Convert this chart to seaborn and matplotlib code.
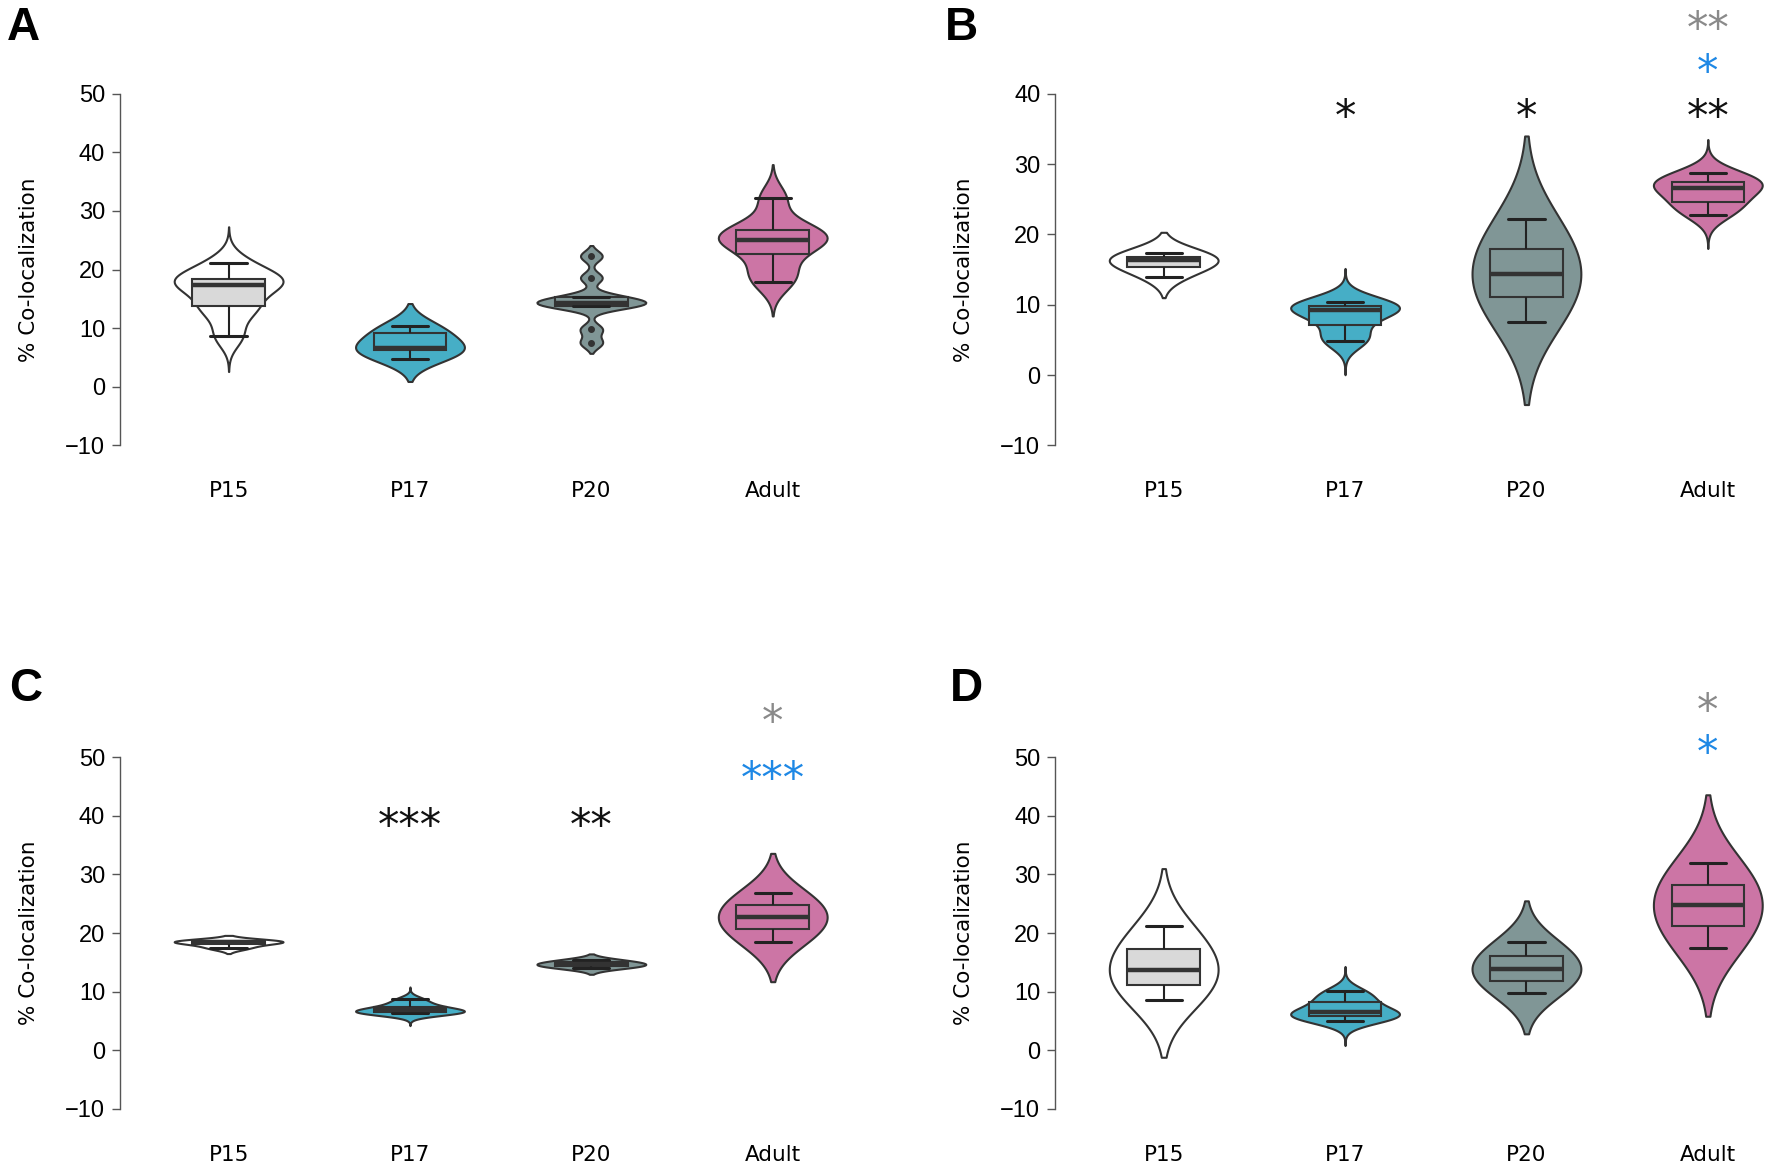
import numpy as np
import pandas as pd
import matplotlib
matplotlib.use("Agg")
import matplotlib.pyplot as plt
import matplotlib.transforms as mtransforms
from matplotlib import font_manager
import seaborn as sns

# -----------------------------
# Data
# -----------------------------
groups = ["P15", "P17", "P20", "Adult"]

a_p15 = [8.7, 12.8, 14.1, 17.0, 17.6, 18.3, 18.9, 21.2]
a_p17 = [4.7, 6.0, 6.3, 6.5, 6.6, 9.0, 9.5, 10.4]
a_p20 = [7.5, 9.8, 13.8, 14.0, 14.2, 14.3, 15.0, 15.4, 18.6, 22.3]
a_adult = [17.8, 20.0, 23.6, 24.6, 25.4, 26.5, 27.2, 32.2]

b_p15 = [13.9, 15.0, 15.5, 16.3, 16.5, 16.8, 17.0, 17.4]
b_p17 = [4.8, 5.5, 7.6, 9.0, 9.5, 9.7, 10.0, 10.4]
b_p20 = [7.6, 10.0, 11.5, 13.5, 15.3, 17.5, 19.0, 22.2]
b_adult = [22.8, 24.0, 24.9, 26.3, 26.9, 27.4, 27.8, 28.7]

c_p15 = [17.4, 17.6, 18.2, 18.5, 18.55, 18.6, 18.6, 18.7]
c_p17 = [6.3, 6.35, 6.5, 6.7, 6.9, 7.3, 7.9, 8.7]
c_p20 = [14.0, 14.2, 14.5, 14.6, 14.7, 14.9, 15.3, 15.4]
c_adult = [18.5, 19.8, 21.0, 22.3, 23.1, 24.5, 25.5, 26.8]

d_p15 = [8.6, 10.0, 11.6, 13.0, 14.5, 16.8, 18.5, 21.2]
d_p17 = [5.0, 5.6, 6.0, 6.3, 6.7, 8.0, 9.0, 10.1]
d_p20 = [9.8, 11.0, 12.1, 13.5, 14.3, 15.8, 16.7, 18.5]
d_adult = [17.5, 19.5, 21.8, 23.5, 26.0, 28.0, 29.0, 31.9]

# significance stars: text, group index, y value, colour key
b_stars = [("*", 1, 37.7, "k"), ("*", 2, 37.7, "k"), ("**", 3, 37.7, "k"),
           ("*", 3, 44.1, "b"), ("**", 3, 50.3, "g")]
c_stars = [("***", 1, 39.6, "k"), ("**", 2, 39.6, "k"),
           ("***", 3, 47.5, "b"), ("*", 3, 57.3, "g")]
d_stars = [("*", 3, 52.0, "b"), ("*", 3, 59.2, "g")]

# kde bandwidth (data units) and tail cut per violin
a_bw, a_cut = [2.0, 1.9, 0.9, 2.2], [3.05, 2, 2, 2.6]
b_bw, b_cut = [1.45, 1.4, 5.9, 1.5], [2, 3.4, 2, 3.2]
c_bw, c_cut = [0.45, 0.6, 0.52, 3.4], [2, 3.5, 2, 2]
d_bw, d_cut = [4.9, 1.2, 3.5, 5.85], [2, 3.5, 2, 2]

# -----------------------------
# Style
# -----------------------------
violin_colors = ["#ffffff", "#46aec6", "#809696", "#cc75a5"]
box_colors = ["#d9d9d9", "#46aec6", "#809696", "#cc75a5"]
star_colors = {"k": "#111111", "b": "#1e88e5", "g": "#8a8a8a"}
edge = "#333333"

sns.set_theme(style="white")
plt.rcParams["font.family"] = ["DejaVu Sans"]
plt.rcParams["text.color"] = "black"

available = {f.name for f in font_manager.fontManager.ttflist}
tick_font = "Liberation Sans Narrow" if "Liberation Sans Narrow" in available else "Liberation Sans"

fig = plt.figure(figsize=(17.72, 11.71), dpi=100)

ax_w = 0.4043
ax_h = 0.3002
positions = {
    "A": [0.0676, 0.6197, ax_w, ax_h],
    "B": [0.5953, 0.6197, ax_w, ax_h],
    "C": [0.0676, 0.0531, ax_w, ax_h],
    "D": [0.5953, 0.0531, ax_w, ax_h],
}


def draw_panel(ax, values, bws, cuts, ymax, stars):
    df = pd.DataFrame({
        "group": np.repeat(groups, [len(v) for v in values]),
        "value": np.concatenate(values),
    })

    for i, g in enumerate(groups):
        sub = df[df["group"] == g]
        factor = bws[i] / sub["value"].std(ddof=1)
        sns.violinplot(
            data=sub, x="group", y="value", order=groups,
            color=violin_colors[i], saturation=1,
            inner=None, cut=cuts[i], width=0.6, density_norm="width",
            bw_method=factor, linecolor=edge, linewidth=1.5, ax=ax
        )

    sns.boxplot(
        data=df, x="group", y="value", order=groups,
        hue="group", hue_order=groups, palette=box_colors,
        saturation=1, width=0.4, linecolor=edge, linewidth=1.5,
        legend=False, ax=ax,
        medianprops=dict(color=edge, linewidth=3.2),
        capprops=dict(color="#222222", linewidth=2.2),
        whiskerprops=dict(color="#222222", linewidth=1.5),
        flierprops=dict(marker="o", markerfacecolor=edge,
                        markeredgecolor=edge, markersize=4),
    )

    ax.set_xlim(-0.6, 3.35)
    ax.set_ylim(-10, ymax)
    ax.set_yticks(range(-10, ymax + 1, 10))
    ax.set_xlabel("")
    ax.set_ylabel("% Co-localization", fontsize=15.5, color="black")
    ax.yaxis.set_label_coords(-0.113, 0.5)

    sns.despine(ax=ax, bottom=True)
    ax.spines["left"].set_color("#555555")
    ax.spines["left"].set_linewidth(1.0)
    ax.tick_params(axis="y", length=5.5, width=1, color="#555555",
                   pad=5, left=True, labelcolor="black")
    ax.tick_params(axis="x", length=0, pad=26, labelcolor="black")
    for lab in ax.get_yticklabels():
        lab.set_fontfamily(tick_font)
        lab.set_fontsize(17)
    for lab in ax.get_xticklabels():
        lab.set_fontsize(15.5)

    shift = mtransforms.offset_copy(ax.transData, fig=ax.figure, x=0, y=-6, units="points")
    for text, gi, yv, ck in stars:
        ax.text(gi, yv, text, color=star_colors[ck], fontsize=31,
                ha="center", va="center", clip_on=False, transform=shift)


panels = [
    ("A", [a_p15, a_p17, a_p20, a_adult], a_bw, a_cut, 50, []),
    ("B", [b_p15, b_p17, b_p20, b_adult], b_bw, b_cut, 40, b_stars),
    ("C", [c_p15, c_p17, c_p20, c_adult], c_bw, c_cut, 50, c_stars),
    ("D", [d_p15, d_p17, d_p20, d_adult], d_bw, d_cut, 50, d_stars),
]

for name, values, bws, cuts, ymax, stars in panels:
    ax = fig.add_axes(positions[name])
    draw_panel(ax, values, bws, cuts, ymax, stars)

letter_pos = {"A": (0.004, 0.995), "B": (0.533, 0.995),
              "C": (0.005, 0.430), "D": (0.536, 0.430)}
for name, (lx, ly) in letter_pos.items():
    fig.text(lx, ly, name, fontsize=33, fontweight="bold", color="black",
             family="Liberation Sans", ha="left", va="top")

fig.savefig("out.png", dpi=100)
